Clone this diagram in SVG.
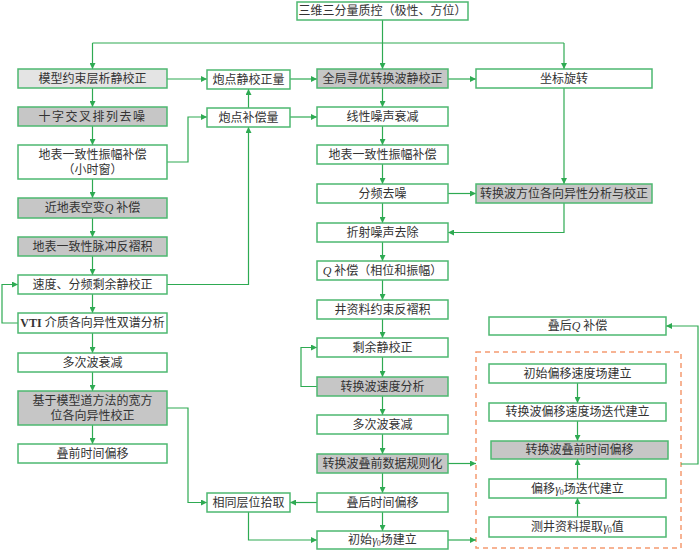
<svg xmlns="http://www.w3.org/2000/svg" width="700" height="550" viewBox="0 0 700 550">
<style>
.b{fill:#fff;stroke:#4db870;stroke-width:1.5}
.g{fill:#c6c6c6}
.lg{fill:#e4e4e4}
.t{font-family:"Liberation Serif","Noto Sans CJK SC",serif;font-size:12px;fill:#333;text-anchor:middle;dominant-baseline:central}
.i{font-style:italic}
.c{fill:none;stroke:#2eaa52;stroke-width:1.2}
.d{fill:none;stroke:#f59a70;stroke-width:1.5;stroke-dasharray:5 4}
</style>
<defs>
<marker id="a" markerUnits="userSpaceOnUse" markerWidth="6" markerHeight="6" refX="6" refY="3" orient="auto">
<path d="M0,0 L6,3 L0,6 z" fill="#2eaa52"/>
</marker>
</defs>
<rect class="d" x="476" y="352" width="205" height="196"/>
<g id="connectors">
<path class="c" d="M382.5,20 V69" marker-end="url(#a)"/>
<path class="c" d="M92.5,43 H564"/>
<path class="c" d="M92.5,43 V69" marker-end="url(#a)"/>
<path class="c" d="M564,43 V69" marker-end="url(#a)"/>
<path class="c" d="M167,79 H207" marker-end="url(#a)"/>
<path class="c" d="M290,79 H317" marker-end="url(#a)"/>
<path class="c" d="M448,79 H476" marker-end="url(#a)"/>
<path class="c" d="M92.5,88 V107" marker-end="url(#a)"/>
<path class="c" d="M92.5,126 V145" marker-end="url(#a)"/>
<path class="c" d="M167,162 H188 V117 H207" marker-end="url(#a)"/>
<path class="c" d="M248.5,108 V89" marker-end="url(#a)"/>
<path class="c" d="M290,117 H317" marker-end="url(#a)"/>
<path class="c" d="M167,284.5 H248.5 V127" marker-end="url(#a)"/>
<path class="c" d="M382.5,88 V107" marker-end="url(#a)"/>
<path class="c" d="M382.5,126 V145" marker-end="url(#a)"/>
<path class="c" d="M382.5,164 V184" marker-end="url(#a)"/>
<path class="c" d="M382.5,203 V223" marker-end="url(#a)"/>
<path class="c" d="M382.5,242 V261" marker-end="url(#a)"/>
<path class="c" d="M382.5,280 V300" marker-end="url(#a)"/>
<path class="c" d="M382.5,319 V338" marker-end="url(#a)"/>
<path class="c" d="M382.5,357 V377" marker-end="url(#a)"/>
<path class="c" d="M382.5,396 V415" marker-end="url(#a)"/>
<path class="c" d="M382.5,434 V454" marker-end="url(#a)"/>
<path class="c" d="M382.5,473 V493" marker-end="url(#a)"/>
<path class="c" d="M382.5,512 V531" marker-end="url(#a)"/>
<path class="c" d="M317,386.5 H301 V347.5 H317" marker-end="url(#a)"/>
<path class="c" d="M564,88 V184" marker-end="url(#a)"/>
<path class="c" d="M448,193.5 H476" marker-end="url(#a)"/>
<path class="c" d="M564,203 V232.5 H448" marker-end="url(#a)"/>
<path class="c" d="M92.5,179 V198" marker-end="url(#a)"/>
<path class="c" d="M92.5,218 V237" marker-end="url(#a)"/>
<path class="c" d="M92.5,256 V275" marker-end="url(#a)"/>
<path class="c" d="M92.5,294 V313" marker-end="url(#a)"/>
<path class="c" d="M92.5,333 V353" marker-end="url(#a)"/>
<path class="c" d="M92.5,372 V391" marker-end="url(#a)"/>
<path class="c" d="M92.5,425 V444" marker-end="url(#a)"/>
<path class="c" d="M18,323 H2 V284.5 H18" marker-end="url(#a)"/>
<path class="c" d="M167,408 H188 V502.5 H207" marker-end="url(#a)"/>
<path class="c" d="M317,502.5 H290" marker-end="url(#a)"/>
<path class="c" d="M248.5,512 V540 H317" marker-end="url(#a)"/>
<path class="c" d="M448,463.5 H476" marker-end="url(#a)"/>
<path class="c" d="M448,540 H476" marker-end="url(#a)"/>
<path class="c" d="M681,464 H698 V326 H666" marker-end="url(#a)"/>
<path class="c" d="M577.5,383 V403" marker-end="url(#a)"/>
<path class="c" d="M577.5,421 V441" marker-end="url(#a)"/>
<path class="c" d="M577.5,479 V459" marker-end="url(#a)"/>
<path class="c" d="M577.5,517 V498" marker-end="url(#a)"/>
</g>
<g id="n0"><rect class="b" x="297" y="2" width="171" height="18"/><text class="t" x="382.5" y="11">三维三分量质控（极性、方位）</text></g>
<g id="L1"><rect class="b lg" x="18" y="69" width="149" height="19"/><text class="t" x="92.5" y="78.5">模型约束层析静校正</text></g>
<g id="L2"><rect class="b g" x="18" y="107" width="149" height="19"/><text class="t" x="92.5" y="116.5" letter-spacing="1.5">十字交叉排列去噪</text></g>
<g id="L3"><rect class="b" x="18" y="145" width="149" height="34"/><text class="t" x="92.5" y="154.5">地表一致性振幅补偿</text><text class="t" x="92.5" y="170">（小时窗）</text></g>
<g id="L4"><rect class="b g" x="18" y="198" width="149" height="20"/><text class="t" x="92.5" y="208">近地表空变<tspan class="i">Q</tspan> 补偿</text></g>
<g id="L5"><rect class="b g" x="18" y="237" width="149" height="19"/><text class="t" x="92.5" y="246.5">地表一致性脉冲反褶积</text></g>
<g id="L6"><rect class="b" x="18" y="275" width="149" height="19"/><text class="t" x="92.5" y="284.5">速度、分频剩余静校正</text></g>
<g id="L7"><rect class="b" x="18" y="313" width="149" height="20"/><text class="t" x="92.5" y="323"><tspan font-weight="bold">VTI</tspan> 介质各向异性双谱分析</text></g>
<g id="L8"><rect class="b" x="18" y="353" width="149" height="19"/><text class="t" x="92.5" y="362.5">多次波衰减</text></g>
<g id="L9"><rect class="b g" x="18" y="391" width="149" height="34"/><text class="t" x="92.5" y="400.5">基于模型道方法的宽方</text><text class="t" x="92.5" y="416">位各向异性校正</text></g>
<g id="L10"><rect class="b" x="18" y="444" width="149" height="19"/><text class="t" x="92.5" y="453.5">叠前时间偏移</text></g>
<g id="P1"><rect class="b" x="207" y="70" width="83" height="19"/><text class="t" x="248.5" y="79.5">炮点静校正量</text></g>
<g id="P2"><rect class="b" x="207" y="108" width="83" height="19"/><text class="t" x="248.5" y="117.5">炮点补偿量</text></g>
<g id="P3"><rect class="b" x="207" y="493" width="83" height="19"/><text class="t" x="248.5" y="502.5">相同层位拾取</text></g>
<g id="M1"><rect class="b g" x="317" y="69" width="131" height="19"/><text class="t" x="382.5" y="78.5">全局寻优转换波静校正</text></g>
<g id="M2"><rect class="b" x="317" y="107" width="131" height="19"/><text class="t" x="382.5" y="116.5">线性噪声衰减</text></g>
<g id="M3"><rect class="b" x="317" y="145" width="131" height="19"/><text class="t" x="382.5" y="154.5">地表一致性振幅补偿</text></g>
<g id="M4"><rect class="b" x="317" y="184" width="131" height="19"/><text class="t" x="382.5" y="193.5">分频去噪</text></g>
<g id="M5"><rect class="b" x="317" y="223" width="131" height="19"/><text class="t" x="382.5" y="232.5">折射噪声去除</text></g>
<g id="M6"><rect class="b" x="317" y="261" width="131" height="19"/><text class="t" x="382.5" y="270.5"><tspan class="i">Q</tspan> 补偿（相位和振幅）</text></g>
<g id="M7"><rect class="b" x="317" y="300" width="131" height="19"/><text class="t" x="382.5" y="309.5">井资料约束反褶积</text></g>
<g id="M8"><rect class="b" x="317" y="338" width="131" height="19"/><text class="t" x="382.5" y="347.5">剩余静校正</text></g>
<g id="M9"><rect class="b g" x="317" y="377" width="131" height="19"/><text class="t" x="382.5" y="386.5">转换波速度分析</text></g>
<g id="M10"><rect class="b" x="317" y="415" width="131" height="19"/><text class="t" x="382.5" y="424.5">多次波衰减</text></g>
<g id="M11"><rect class="b g" x="317" y="454" width="131" height="19"/><text class="t" x="382.5" y="463.5">转换波叠前数据规则化</text></g>
<g id="M12"><rect class="b" x="317" y="493" width="131" height="19"/><text class="t" x="382.5" y="502.5">叠后时间偏移</text></g>
<g id="M13"><rect class="b" x="317" y="531" width="131" height="18"/><text class="t" x="382.5" y="540">初始<tspan class="i">γ</tspan><tspan font-size="8" dy="3">0</tspan><tspan dy="-3">场建立</tspan></text></g>
<g id="R1"><rect class="b" x="476" y="69" width="176" height="19"/><text class="t" x="564" y="78.5">坐标旋转</text></g>
<g id="R2"><rect class="b g" x="476" y="184" width="176" height="19"/><text class="t" x="564" y="193.5">转换波方位各向异性分析与校正</text></g>
<g id="R3"><rect class="b" x="489" y="317" width="177" height="18"/><text class="t" x="577.5" y="326">叠后<tspan class="i">Q</tspan> 补偿</text></g>
<g id="R4"><rect class="b" x="489" y="364" width="177" height="19"/><text class="t" x="577.5" y="373.5">初始偏移速度场建立</text></g>
<g id="R5"><rect class="b" x="489" y="403" width="177" height="18"/><text class="t" x="577.5" y="412">转换波偏移速度场迭代建立</text></g>
<g id="R6"><rect class="b g" x="491" y="441" width="177" height="18"/><text class="t" x="579.5" y="450">转换波叠前时间偏移</text></g>
<g id="R7"><rect class="b" x="489" y="479" width="177" height="19"/><text class="t" x="577.5" y="488.5">偏移<tspan class="i">γ</tspan><tspan font-size="8" dy="3">0</tspan><tspan dy="-3">场迭代建立</tspan></text></g>
<g id="R8"><rect class="b" x="489" y="517" width="177" height="20"/><text class="t" x="577.5" y="527">测井资料提取<tspan class="i">γ</tspan><tspan font-size="8" dy="3">0</tspan><tspan dy="-3">值</tspan></text></g>
</svg>
